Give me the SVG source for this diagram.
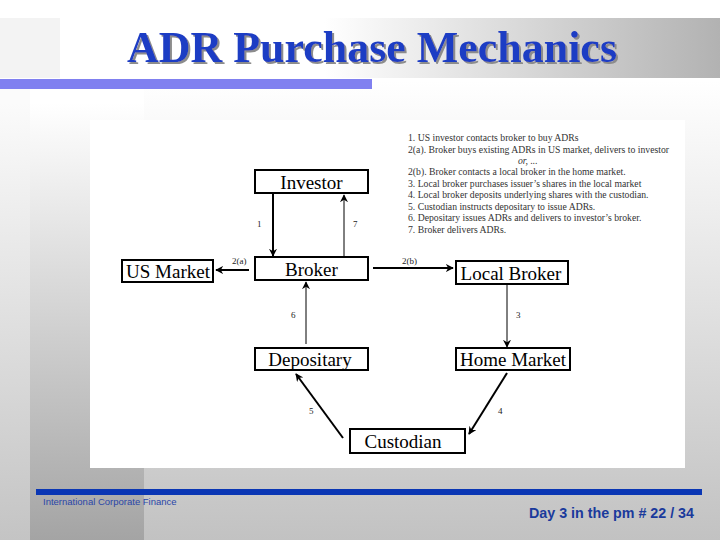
<svg xmlns="http://www.w3.org/2000/svg" width="720" height="540" viewBox="0 0 720 540">
<defs>
<linearGradient id="bgv" x1="0" y1="0" x2="0" y2="1">
<stop offset="0.15" stop-color="#ffffff"/>
<stop offset="1" stop-color="#c2c2c2"/>
</linearGradient>
<linearGradient id="colv" x1="0" y1="0" x2="0" y2="1">
<stop offset="0.05" stop-color="#ffffff"/>
<stop offset="1" stop-color="#a4a4a4"/>
</linearGradient>
<linearGradient id="colL" x1="0" y1="0" x2="0" y2="1">
<stop offset="0.05" stop-color="#fbfbfb"/>
<stop offset="1" stop-color="#c4c4c4"/>
</linearGradient>
<linearGradient id="titleg" x1="0" y1="0" x2="1" y2="0">
<stop offset="0.4" stop-color="#ffffff"/>
<stop offset="1" stop-color="#b2b2b2"/>
</linearGradient>
<filter id="shadow" x="-5%" y="-20%" width="110%" height="140%">
<feDropShadow dx="2" dy="2" stdDeviation="0.4" flood-color="#8c8c8c" flood-opacity="1"/>
</filter>
<marker id="ah" viewBox="0 0 10 10" refX="9" refY="5" markerWidth="4" markerHeight="4" orient="auto" markerUnits="strokeWidth">
<path d="M0,0 L10,5 L0,10 L3,5 z" fill="#000"/>
</marker>
<marker id="ahT" viewBox="0 0 10 10" refX="9" refY="5" markerWidth="8" markerHeight="8" orient="auto" markerUnits="strokeWidth">
<path d="M0,0 L10,5 L0,10 L3,5 z" fill="#000"/>
</marker>
</defs>
<style>
.box{fill:#ffffff;stroke:#000;stroke-width:2}
.nl{font-family:"Liberation Serif","Times New Roman",serif;font-size:19px;fill:#000;text-anchor:middle}
.el{font-family:"Liberation Serif","Times New Roman",serif;font-size:9px;fill:#222}
.lg{font-family:"Liberation Serif","Times New Roman",serif;font-size:9.7px;fill:#333}
.thick{stroke:#000;stroke-width:2;fill:none;marker-end:url(#ah)}
.thin{stroke:#000;stroke-width:1;fill:none;marker-end:url(#ahT)}
</style>
<!-- background -->
<rect x="0" y="0" width="720" height="540" fill="url(#bgv)"/>
<rect x="0" y="80" width="30" height="460" fill="url(#colL)"/>
<rect x="30" y="80" width="114" height="460" fill="url(#colv)"/>
<rect x="0" y="18" width="60" height="60" fill="#f3f3f3"/>
<rect x="60" y="18" width="660" height="60" fill="url(#titleg)"/>
<rect x="0" y="79" width="372" height="10" fill="#8080f0"/>
<text x="372" y="62" font-family="'Liberation Serif','Times New Roman',serif" font-size="45" font-weight="bold" fill="#1f3cc4" text-anchor="middle" textLength="490" lengthAdjust="spacingAndGlyphs" filter="url(#shadow)">ADR Purchase Mechanics</text>
<!-- white panel -->
<rect x="90" y="120" width="595" height="348" fill="#ffffff"/>
<!-- footer -->
<rect x="36" y="489" width="666" height="6" fill="#0a36b4"/>
<text x="43" y="505" font-family="'Liberation Sans',Arial,sans-serif" font-size="9.5" fill="#2a46a8">International Corporate Finance</text>
<text x="694" y="518" font-family="'Liberation Sans',Arial,sans-serif" font-size="14" font-weight="bold" fill="#1a3a9c" text-anchor="end" textLength="165" lengthAdjust="spacingAndGlyphs">Day 3 in the pm # 22 / 34</text>
<!-- legend -->
<g id="legend">
<text class="lg" x="408" y="141">1.  US investor contacts broker to buy ADRs</text>
<text class="lg" x="408" y="152.5" textLength="261" lengthAdjust="spacingAndGlyphs">2(a).  Broker buys existing ADRs in US market, delivers to investor</text>
<text class="lg" x="518" y="163.5" font-style="italic">or, ...</text>
<text class="lg" x="408" y="175">2(b). Broker contacts a local broker in the home market.</text>
<text class="lg" x="408" y="186.5">3.  Local broker purchases issuer’s shares in the local market</text>
<text class="lg" x="408" y="198">4.  Local broker deposits underlying shares with the custodian.</text>
<text class="lg" x="408" y="209.5">5.  Custodian instructs depositary to issue ADRs.</text>
<text class="lg" x="408" y="221">6.  Depositary issues ADRs and delivers to investor’s broker.</text>
<text class="lg" x="408" y="232.5">7.  Broker delivers ADRs.</text>
</g>
<!-- connectors -->
<g id="connectors">
<line class="thick" x1="273" y1="194" x2="273" y2="256"/>
<text class="el" x="257" y="227">1</text>
<line class="thin" x1="344" y1="257" x2="344" y2="195"/>
<text class="el" x="353" y="227">7</text>
<line class="thick" x1="249" y1="270" x2="216" y2="270"/>
<text class="el" x="232" y="264">2(a)</text>
<line class="thick" x1="373" y1="268" x2="453" y2="268"/>
<text class="el" x="402" y="264">2(b)</text>
<line class="thin" x1="507" y1="285" x2="507" y2="347"/>
<text class="el" x="516" y="318">3</text>
<line class="thin" x1="306" y1="344" x2="306" y2="282"/>
<text class="el" x="291" y="318">6</text>
<line class="thick" x1="507" y1="373" x2="469" y2="434"/>
<text class="el" x="498" y="414">4</text>
<line class="thick" x1="343" y1="438" x2="296" y2="374"/>
<text class="el" x="309" y="414">5</text>
</g>
<!-- nodes -->
<g id="investor"><rect class="box" x="255" y="170" width="113" height="23"/><text class="nl" x="311.5" y="189">Investor</text></g>
<g id="broker"><rect class="box" x="255" y="257" width="113" height="23"/><text class="nl" x="311.5" y="276">Broker</text></g>
<g id="us-market"><rect class="box" x="122" y="260" width="91" height="22"/><text class="nl" x="168" y="278">US Market</text></g>
<g id="local-broker"><rect class="box" x="456" y="261" width="112" height="23"/><text class="nl" x="511" y="280">Local Broker</text></g>
<g id="depositary"><rect class="box" x="255" y="348" width="113" height="22"/><text class="nl" x="310" y="366">Depositary</text></g>
<g id="home-market"><rect class="box" x="456" y="348" width="114" height="22"/><text class="nl" x="513" y="366">Home Market</text></g>
<g id="custodian"><rect class="box" x="350" y="429" width="115" height="24"/><text class="nl" x="403" y="448">Custodian</text></g>
</svg>
